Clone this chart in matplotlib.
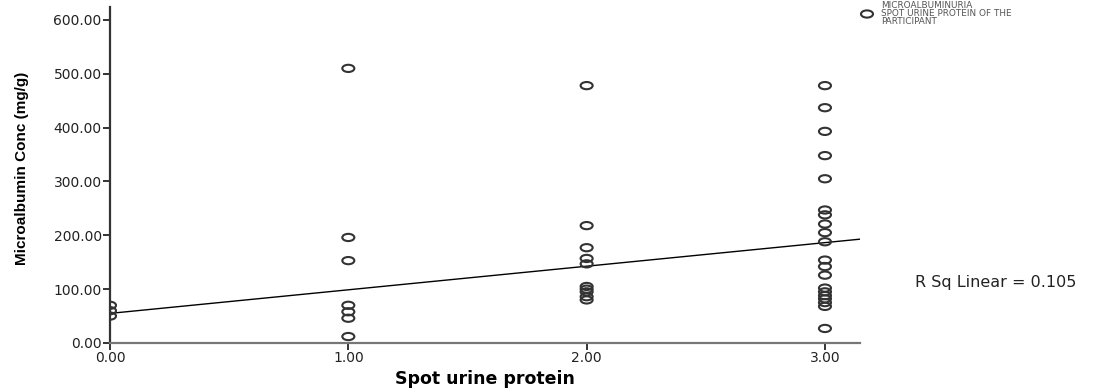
import numpy as np
import matplotlib
matplotlib.use("Agg")
from matplotlib import pyplot as plt
from matplotlib.path import Path

## DATA
protein_levels = [0.00, 1.00, 2.00, 3.00]
albumin_by_level = {
    0.00: [70, 60, 50],
    1.00: [510, 196, 153, 70, 58, 46, 12],
    2.00: [478, 218, 177, 157, 147, 105, 100, 95, 86, 80],
    3.00: [478, 437, 393, 348, 305, 247, 238, 221, 205, 188,
           154, 142, 126, 102, 95, 88, 82, 75, 68, 27],
}
fit_intercept = 55.0
fit_slope = 43.8
r_sq = 0.105
y_ticks = [0, 100, 200, 300, 400, 500, 600]
x_ticks = [0, 1, 2, 3]
legend_lines = ['MICROALBUMINURIA', 'SPOT URINE PROTEIN OF THE', 'PARTICIPANT']

x = np.concatenate([[lvl] * len(albumin_by_level[lvl]) for lvl in protein_levels])
y = np.concatenate([albumin_by_level[lvl] for lvl in protein_levels])

plt.rcParams['font.family'] = ['DejaVu Sans']

#squashed circle, the source image is stretched sideways
circ = Path.unit_circle()
ell = Path(circ.vertices * np.array([1.0, 0.6]), circ.codes)

fig = plt.figure(figsize=(11.02, 3.89), dpi=100)
ax = fig.add_axes([110/1102, 46/389, 750/1102, 336/389])

ax.scatter(x, y, marker=ell, s=75, facecolors='none', edgecolors='#333333', linewidths=1.5, zorder=3)

xmax = 3.147
xx = np.array([0.0, xmax])
ax.plot(xx, fit_intercept + fit_slope * xx, color='black', lw=1.0, zorder=2)

ax.set_xlim(0, xmax)
ax.set_ylim(0, 624)
ax.set_xticks(x_ticks)
ax.set_xticklabels(['%.2f' % v for v in x_ticks])
ax.set_yticks(y_ticks)
ax.set_yticklabels(['%.2f' % v for v in y_ticks])

for s in ['top', 'right']:
    ax.spines[s].set_visible(False)
ax.spines['left'].set_color('#333333')
ax.spines['left'].set_linewidth(1.6)
ax.spines['bottom'].set_color('#777777')
ax.spines['bottom'].set_linewidth(1.6)
ax.tick_params(axis='both', direction='out', length=5, width=1.4, colors='#333333',
               labelsize=10, labelcolor='#222222', pad=1)

ax.set_xlabel('Spot urine protein', fontsize=12.5, fontweight='bold', labelpad=3)
ax.set_ylabel('Microalbumin Conc (mg/g)', fontsize=11, fontweight='bold',
              family='Liberation Sans')
ax.yaxis.set_label_coords(-0.108, 0.52)

#legend and r-squared note
ax.scatter([867/1102], [1 - 14/389], marker=ell, s=75, facecolors='none', edgecolors='#333333',
           linewidths=1.5, transform=fig.transFigure, clip_on=False)
for i, line in enumerate(legend_lines):
    fig.text(881/1102, 1 - (6 + 8*i)/389, line, fontsize=6.4, color='#555555',
             va='center', ha='left')
fig.text(915/1102, 1 - 283/389, 'R Sq Linear = %.3f' % r_sq, fontsize=11.5,
         color='#222222', va='center', ha='left')

fig.savefig('out.png', dpi=100)
